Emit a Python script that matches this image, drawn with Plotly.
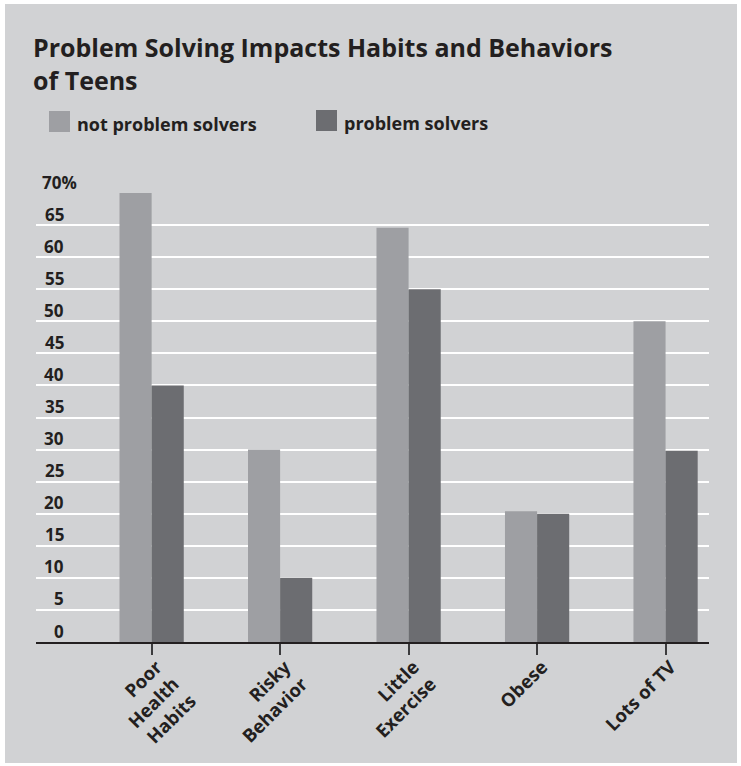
import plotly.graph_objects as go

# ---- data ----
categories = ["Poor<br>Health<br>Habits", "Risky<br>Behavior", "Little<br>Exercise", "Obese", "Lots of TV"]
series_names = ["not problem solvers", "problem solvers"]
not_problem_solvers = [70, 30, 64.6, 20.4, 50]
problem_solvers = [40, 10, 55, 20, 29.8]
y_tick_values = [0, 5, 10, 15, 20, 25, 30, 35, 40, 45, 50, 55, 60, 65, 70]
y_tick_labels = ["0", "5", "10", "15", "20", "25", "30", "35", "40", "45", "50", "55", "60", "65", "70%"]
title_text = "Problem Solving Impacts Habits and Behaviors<br>of Teens"

# ---- style ----
W, H = 741, 766
L, R, T, B = 36, 32, 193, 124
PW, PH = W - L - R, H - T - B
PANEL = "#d1d2d4"
LIGHT = "#9e9fa3"
DARK = "#6c6d71"
INK = "#231f20"
FONT = "Open Sans"


def px_x(px):
    return (px - L) / PW


def px_y(py):
    return (H - B - py) / PH


fig = go.Figure()
fig.add_trace(go.Bar(x=categories, y=not_problem_solvers, name=series_names[0],
                     marker=dict(color=LIGHT, line=dict(width=0))))
fig.add_trace(go.Bar(x=categories, y=problem_solvers, name=series_names[1],
                     marker=dict(color=DARK, line=dict(width=0))))

shapes = [
    dict(type="rect", xref="paper", yref="paper", x0=px_x(5), x1=px_x(737),
         y0=px_y(763), y1=px_y(4), fillcolor=PANEL, line=dict(width=0), layer="below"),
]
annotations = []

# legend (custom, square swatches)
legend_items = [(series_names[0], LIGHT, 49, 111), (series_names[1], DARK, 316, 110)]
for name, color, lx, ly in legend_items:
    shapes.append(dict(type="rect", xref="paper", yref="paper",
                       x0=px_x(lx), x1=px_x(lx + 21), y0=px_y(ly + 21), y1=px_y(ly),
                       fillcolor=color, line=dict(width=0), layer="above"))
    annotations.append(dict(text=name, xref="paper", yref="paper",
                            x=px_x(lx + 26), y=px_y(ly + 13), xanchor="left", yanchor="middle",
                            showarrow=False,
                            font=dict(family=FONT, size=18, color=INK, weight=700)))

# y tick labels sitting just above their gridlines
for v, lab in zip(y_tick_values, y_tick_labels):
    if lab.endswith("%"):
        ax, anc = px_x(40), "left"
    else:
        ax, anc = px_x(66), "right"
    annotations.append(dict(text=lab, xref="paper", yref="y", x=ax, y=v,
                            xanchor=anc, yanchor="middle", yshift=11, showarrow=False,
                            font=dict(family=FONT, size=17, color=INK, weight=700)))

fig.update_layout(
    width=W, height=H,
    margin=dict(l=L, r=R, t=T, b=B),
    paper_bgcolor="white",
    plot_bgcolor="rgba(0,0,0,0)",
    showlegend=False,
    barmode="group", bargap=0.5, bargroupgap=0,
    title=dict(text=title_text, xref="container", yref="container",
               x=33 / W, xanchor="left", y=1 - 57 / H, yanchor="top",
               font=dict(family=FONT, size=25, color=INK, weight=700)),
    shapes=shapes,
    annotations=annotations,
    xaxis=dict(type="category", range=[-0.9, 4.338],
               showline=True, linecolor=INK, linewidth=2,
               ticks="outside", ticklen=11, tickwidth=1.5, tickcolor="#3c3c3e",
               tickangle=-45, showgrid=False,
               ticklabelstandoff=-6, ticklabelshift=5,
               tickfont=dict(family=FONT, size=18.5, color=INK, weight=700)),
    yaxis=dict(range=[0, 70], tickvals=y_tick_values, showticklabels=False,
               showgrid=True, gridcolor="white", gridwidth=1.5, zeroline=False,
               ticks=""),
)

fig.write_html("out.html", config={"displayModeBar": False},
               post_script="document.body.style.margin='0';")
